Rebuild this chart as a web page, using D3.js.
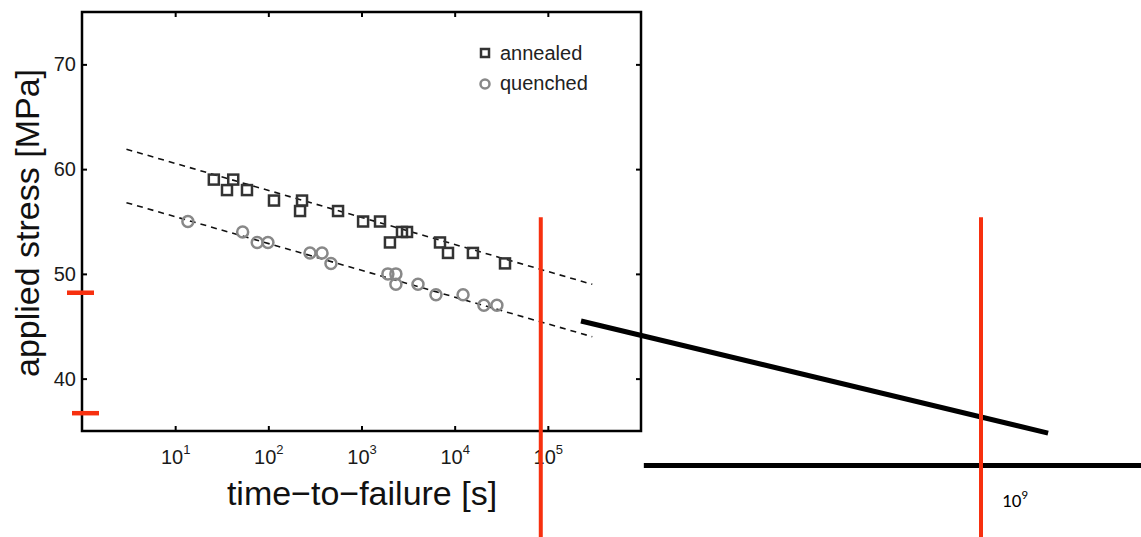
<!DOCTYPE html>
<html><head><meta charset="utf-8">
<script src="https://cdn.jsdelivr.net/npm/d3@7"></script>
<style>body{margin:0;background:#fff;} svg{display:block;font-family:"Liberation Sans",Arial,sans-serif;}</style>
</head><body>
<svg id="c" width="1141" height="537"></svg>
<script>
// ---- data ----
const xTicks = [1e1, 1e2, 1e3, 1e4, 1e5];
const yTicks = [40, 50, 60, 70];
const annealedT = [26, 36, 42, 59, 115, 230, 219, 560, 1040, 1580, 2020, 2720, 3080, 6960, 8480, 15700, 34700];
const annealedS = [59, 58, 59, 58, 57, 57, 56, 56, 55, 55, 53, 54, 54, 53, 52, 52, 51];
const quenchedT = [13.7, 53, 76, 99, 280, 377, 470, 1920, 2340, 2340, 4040, 6300, 12300, 20600, 28400];
const quenchedS = [55, 54, 53, 53, 52, 52, 51, 50, 50, 49, 49, 48, 48, 47, 47];
const fitT = [3, 3e5];
const annealedFit = [61.9, 49.0];
const quenchedFit = [56.8, 44.0];
const seriesNames = ["annealed", "quenched"];
// annotations
const redVT = 8.4e4;            // red vertical line on the chart time axis
const redVTop = 55.4;           // stress at which red verticals start
const redTickS = [48.2, 36.7];  // red marks on stress axis
const extT = [1e4, 1e9];        // extrapolated time axis reference
const extSlantT = [1e4, 6.9e9];
const extSlantS = [45.5, 34.8];
const extAxisT = [6.1e4, 1e11];
const extAxisS = 31.7;
const extRedT = 1e9;
const extLabel = ["10", "9"];

// ---- layout ----
const W = 1141, H = 537;
const L = 82, R = 641, T = 12, B = 431;
const svg = d3.select("#c");
const x = d3.scaleLog().domain([1, 1e6]).range([L, R]);
const y = d3.scaleLinear().domain([35, 75]).range([B, T]);
const xe = d3.scaleLog().domain(extT).range([581, 981]);

const red = "#f7300f";

// frame
svg.append("rect").attr("x", L).attr("y", T).attr("width", R - L).attr("height", B - T)
  .attr("fill", "none").attr("stroke", "#000").attr("stroke-width", 2.5);

// axes
const supFmt = (g) => {
  g.selectAll(".tick text").each(function(d) {
    const t = d3.select(this);
    const e = Math.round(Math.log10(d));
    t.text(null);
    t.append("tspan").text("10");
    t.append("tspan").attr("dy", "-0.75em").attr("font-size", "13px").text(e);
  });
};
const gx = svg.append("g").attr("transform", `translate(0,${B})`)
  .call(d3.axisBottom(x).tickValues(xTicks).tickSize(-5).tickPadding(19));
gx.call(supFmt);
const gxt = svg.append("g").attr("transform", `translate(0,${T})`)
  .call(d3.axisTop(x).tickValues(xTicks).tickSize(-5).tickFormat(""));
const gy = svg.append("g").attr("transform", `translate(${L},0)`)
  .call(d3.axisLeft(y).tickValues(yTicks).tickSize(-5).tickPadding(6));
const gyr = svg.append("g").attr("transform", `translate(${R},0)`)
  .call(d3.axisRight(y).tickValues(yTicks).tickSize(-5).tickFormat(""));
[gx, gxt, gy, gyr].forEach(g => {
  g.select(".domain").remove();
  g.selectAll(".tick line").attr("stroke", "#000").attr("stroke-width", 2);
  g.selectAll(".tick text").attr("fill", "#1a1a1a").attr("font-size", "20px")
    .attr("font-family", "Liberation Sans, Arial, sans-serif");
});

// axis titles
svg.append("text").attr("x", 362).attr("y", 505).attr("text-anchor", "middle")
  .attr("font-size", "34px").attr("fill", "#111").text("time\u2212to\u2212failure [s]");
svg.append("text").attr("transform", `translate(39,223) rotate(-90)`)
  .attr("text-anchor", "middle").attr("font-size", "34px").attr("fill", "#111")
  .text("applied stress [MPa]");

// fit lines
const line = d3.line().x(d => x(d[0])).y(d => y(d[1]));
[annealedFit, quenchedFit].forEach(f => {
  svg.append("path").datum(fitT.map((t, i) => [t, f[i]])).attr("d", line)
    .attr("fill", "none").attr("stroke", "#111").attr("stroke-width", 1.6)
    .attr("stroke-dasharray", "6,5");
});

// markers
const sq = 10;
svg.append("g").selectAll("rect").data(annealedT.map((t, i) => [t, annealedS[i]])).join("rect")
  .attr("x", d => x(d[0]) - sq / 2).attr("y", d => y(d[1]) - sq / 2)
  .attr("width", sq).attr("height", sq).attr("fill", "none")
  .attr("stroke", "#333").attr("stroke-width", 2.5);
svg.append("g").selectAll("circle").data(quenchedT.map((t, i) => [t, quenchedS[i]])).join("circle")
  .attr("cx", d => x(d[0])).attr("cy", d => y(d[1])).attr("r", 5.5)
  .attr("fill", "none").attr("stroke", "#888").attr("stroke-width", 2.5);

// legend
const lg = svg.append("g");
lg.append("rect").attr("x", 481).attr("y", 49).attr("width", 8).attr("height", 8)
  .attr("fill", "none").attr("stroke", "#333").attr("stroke-width", 2.5);
lg.append("circle").attr("cx", 485).attr("cy", 84).attr("r", 4.5)
  .attr("fill", "none").attr("stroke", "#888").attr("stroke-width", 2.5);
lg.selectAll("text").data(seriesNames).join("text")
  .attr("x", 500).attr("y", (d, i) => 60 + i * 30).attr("font-size", "20px")
  .attr("fill", "#222").text(d => d);

// red annotations
svg.append("line").attr("x1", x(redVT)).attr("x2", x(redVT)).attr("y1", y(redVTop)).attr("y2", H)
  .attr("stroke", red).attr("stroke-width", 4);
svg.append("g").selectAll("line").data(redTickS).join("line")
  .attr("x1", (d, i) => L - 15 + i * 5).attr("x2", (d, i) => L + 12 + i * 5)
  .attr("y1", d => y(d)).attr("y2", d => y(d))
  .attr("stroke", red).attr("stroke-width", 4.5);

// extrapolation sketch
svg.append("line").attr("x1", xe(extSlantT[0])).attr("y1", y(extSlantS[0]))
  .attr("x2", xe(extSlantT[1])).attr("y2", y(extSlantS[1]))
  .attr("stroke", "#000").attr("stroke-width", 5);
svg.append("line").attr("x1", xe(extAxisT[0])).attr("y1", y(extAxisS))
  .attr("x2", xe(extAxisT[1])).attr("y2", y(extAxisS))
  .attr("stroke", "#000").attr("stroke-width", 5);
svg.append("line").attr("x1", xe(extRedT)).attr("x2", xe(extRedT)).attr("y1", y(redVTop)).attr("y2", H)
  .attr("stroke", red).attr("stroke-width", 4);
const lbl = svg.append("text").attr("x", xe(extRedT) + 21).attr("y", 507)
  .attr("font-family", "Carlito, Calibri, 'Liberation Sans', sans-serif")
  .attr("font-size", "19px").attr("fill", "#000");
lbl.append("tspan").text(extLabel[0]);
lbl.append("tspan").attr("dy", "-0.65em").attr("font-size", "13px").text(extLabel[1]);
</script>
</body></html>
